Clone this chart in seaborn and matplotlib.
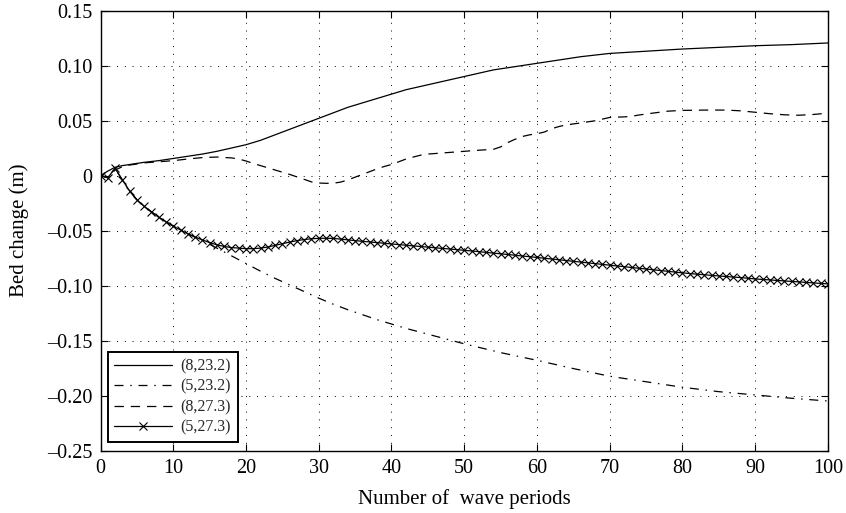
import numpy as np
import pandas as pd
import matplotlib
matplotlib.use("Agg")
import matplotlib.pyplot as plt
import seaborn as sns

# ---- series: bed change (m) against number of wave periods ----
x_8_232 = [0, 1, 2, 3, 4, 5, 6, 8, 10, 12, 14, 16, 18, 20, 22, 24, 26, 28, 30,
           32, 34, 36, 38, 40, 42, 44, 46, 48, 50, 52, 54, 56, 58, 60, 62, 64,
           66, 68, 70, 75, 80, 85, 90, 95, 100]
y_8_232 = [0.0, 0.004, 0.0075, 0.009, 0.010, 0.011, 0.012, 0.0135, 0.0155,
           0.0175, 0.0195, 0.022, 0.025, 0.028, 0.032, 0.037, 0.042, 0.047,
           0.052, 0.057, 0.062, 0.066, 0.070, 0.074, 0.078, 0.081, 0.084,
           0.087, 0.090, 0.093, 0.096, 0.098, 0.100, 0.102, 0.104, 0.106,
           0.108, 0.1095, 0.111, 0.113, 0.115, 0.1165, 0.118, 0.119, 0.1205]

x_5_232 = [0, 1, 2, 3, 4, 5, 6, 7, 8, 9, 10, 11, 12, 13, 14, 15, 16, 17, 18,
           19, 20, 22, 24, 26, 28, 30, 32, 34, 36, 38, 40, 42, 44, 46, 48, 50,
           55, 60, 65, 70, 75, 80, 85, 90, 95, 100]
y_5_232 = [0.0, -0.002, 0.0065, -0.004, -0.014, -0.022, -0.028, -0.033,
           -0.038, -0.042, -0.046, -0.0495, -0.053, -0.056, -0.0585, -0.0625,
           -0.066, -0.0695, -0.073, -0.0765, -0.080, -0.087, -0.0935, -0.0995,
           -0.1055, -0.1115, -0.117, -0.122, -0.1265, -0.131, -0.135, -0.139,
           -0.1425, -0.146, -0.1495, -0.153, -0.161, -0.168, -0.1755, -0.1825,
           -0.1875, -0.1925, -0.1965, -0.1995, -0.2025, -0.205]

x_8_273 = [0, 1, 2, 3, 4, 5, 6, 8, 10, 12, 14, 16, 18, 19, 20, 21, 22, 24, 26,
           28, 29, 30, 31, 32, 33, 34, 35, 36, 37, 38, 39, 40, 41, 42, 43, 44,
           45, 46, 48, 50, 52, 54, 55, 56, 57, 58, 59, 60, 61, 62, 63, 64, 66,
           68, 70, 72, 73, 74, 76, 78, 80, 83, 86, 88, 90, 92, 94, 96, 98, 100]
y_8_273 = [0.0, -0.002, 0.005, 0.008, 0.0095, 0.0105, 0.0115, 0.0125, 0.0135,
           0.015, 0.0163, 0.0168, 0.016, 0.015, 0.0132, 0.011, 0.009, 0.005,
           0.001, -0.0035, -0.0058, -0.0068, -0.0071, -0.007, -0.006, -0.004,
           -0.0015, 0.001, 0.0035, 0.006, 0.0082, 0.010, 0.0125, 0.015,
           0.0168, 0.0185, 0.0195, 0.020, 0.021, 0.022, 0.023, 0.0238, 0.026,
           0.030, 0.033, 0.0355, 0.037, 0.038, 0.0395, 0.0425, 0.0445, 0.046,
           0.0478, 0.0498, 0.0528, 0.0533, 0.0538, 0.055, 0.0568, 0.0585,
           0.0592, 0.0595, 0.0595, 0.0588, 0.0575, 0.0562, 0.0552, 0.0548,
           0.0555, 0.0567]

x_5_273 = list(range(0, 101))
y_5_273 = [0.0, -0.002, 0.0065, -0.004, -0.014, -0.022, -0.028, -0.033,
           -0.038, -0.042, -0.046, -0.0495, -0.053, -0.056, -0.0585, -0.061,
           -0.063, -0.0645, -0.0655, -0.066, -0.0665, -0.0665, -0.066, -0.065,
           -0.0635, -0.062, -0.0605, -0.0592, -0.0582, -0.0575, -0.0571,
           -0.057, -0.0572, -0.0578, -0.0585, -0.0592, -0.0598, -0.0604,
           -0.061, -0.0616, -0.0622, -0.0628, -0.0634, -0.064, -0.0645,
           -0.0651, -0.0657, -0.0663, -0.0668, -0.0674, -0.068, -0.0686,
           -0.0692, -0.0699, -0.0705, -0.0712, -0.0718, -0.0725, -0.0732,
           -0.0738, -0.0745, -0.0752, -0.0759, -0.0766, -0.0773, -0.078,
           -0.0787, -0.0794, -0.0801, -0.0808, -0.0815, -0.0822, -0.0829,
           -0.0836, -0.0843, -0.085, -0.0857, -0.0864, -0.0871, -0.0878,
           -0.0885, -0.0891, -0.0897, -0.0902, -0.0908, -0.0913, -0.0918,
           -0.0923, -0.0928, -0.0934, -0.094, -0.0945, -0.0949, -0.0954,
           -0.0958, -0.0963, -0.0967, -0.0972, -0.0976, -0.0981, -0.0985]

series_labels = ["(8,23.2)", "(5,23.2)", "(8,27.3)", "(5,27.3)"]

x_ticks = [0, 10, 20, 30, 40, 50, 60, 70, 80, 90, 100]
y_ticks = [-0.25, -0.20, -0.15, -0.10, -0.05, 0.0, 0.05, 0.10, 0.15]
y_tick_labels = ["–0.25", "–0.20", "–0.15", "–0.10", "–0.05", "0",
                 "0.05", "0.10", "0.15"]

sns.set_theme(style="ticks")
plt.rcParams["font.family"] = ["Liberation Serif", "DejaVu Serif"]
plt.rcParams["axes.linewidth"] = 1.0
plt.rcParams["xtick.direction"] = "in"
plt.rcParams["ytick.direction"] = "in"

fig = plt.figure(figsize=(8.46, 5.13), dpi=100)
fig.patch.set_facecolor("white")
ax = fig.add_axes([0.1188, 0.1218, 0.8599, 0.8577])
ax.set_facecolor("white")

frames = [
    (x_8_232, y_8_232, series_labels[0], dict(linestyle="-")),
    (x_5_232, y_5_232, series_labels[1], dict(linestyle=(0, (7.2, 5.4, 1.2, 5.4)))),
    (x_8_273, y_8_273, series_labels[2], dict(linestyle=(0, (7.5, 5.5)))),
    (x_5_273, y_5_273, series_labels[3], dict(linestyle="-", marker="x",
                                              markersize=5.5, markeredgewidth=0.8,
                                              markeredgecolor="black")),
]
for xs, ys, lab, style in frames:
    df = pd.DataFrame({"periods": xs, "change": ys})
    sns.lineplot(data=df, x="periods", y="change", ax=ax, color="black",
                 linewidth=0.9, estimator=None, label=lab, **style)

ax.set_xlim(0, 100)
ax.set_ylim(-0.25, 0.15)
ax.set_xticks(x_ticks)
ax.set_xticklabels([str(t) for t in x_ticks])
ax.set_yticks(y_ticks)
ax.set_yticklabels(y_tick_labels)
ax.tick_params(axis="both", which="both", direction="in", length=5, width=0.8,
               top=True, right=True, labelsize=14.5, colors="black", pad=6)
for side in ax.spines.values():
    side.set_visible(True)
    side.set_color("black")
    side.set_linewidth(1.0)

ax.grid(True, linestyle=(0, (1, 7)), linewidth=0.7, color="black")
ax.set_axisbelow(True)

ax.set_xlabel("Number of  wave periods", fontsize=15, color="black", labelpad=8)
ax.set_ylabel("Bed change (m)", fontsize=15, color="black", labelpad=13)

leg = ax.legend(loc="lower left", bbox_to_anchor=(0.0103, 0.0193),
                borderaxespad=0, fontsize=11.5, handlelength=3.6,
                labelspacing=0.28, fancybox=False, framealpha=1,
                edgecolor="black", borderpad=0.4, handletextpad=0.55,
                numpoints=1)
leg.get_frame().set_linewidth(1.4)

fig.savefig("out.png", dpi=100, facecolor="white")
